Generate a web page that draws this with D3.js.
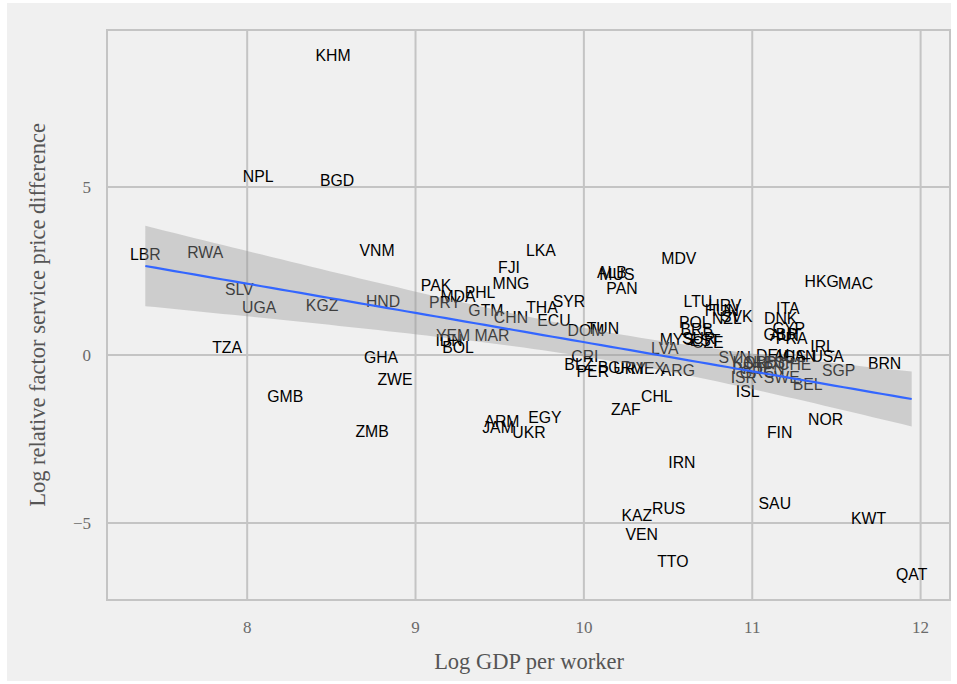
<!DOCTYPE html>
<html><head><meta charset="utf-8">
<script src="https://cdn.jsdelivr.net/npm/d3@7"></script>
<style>body{margin:0;background:#fff}svg{display:block}</style>
</head><body><svg id="c" width="957" height="684"></svg>
<script>
const codes = ["KHM","NPL","BGD","VNM","LBR","RWA","LKA","MDV","FJI","ALB","MUS","PAN","MNG","HKG","MAC","PAK","PHL","MDA","PRY","SLV","UGA","KGZ","HND","SYR","THA","GTM","CHN","ECU","LTU","HRV","HUN","SVK","NZL","ITA","DNK","CYP","GBR","AUT","FRA","IRL","USA","BRN","SGP","BEL","SWE","ISR","ISL","NOR","FIN","CHL","ZAF","IRN","SAU","KWT","QAT","KAZ","RUS","VEN","TTO","ARM","JAM","UKR","EGY","ZMB","GMB","ZWE","GHA","TZA","IDN","YEM","MAR","BOL","DOM","TUN","BLZ","CRI","PER","BGR","URY","MEX","ARG","LVA","MYS","POL","BRB","SUR","EST","CZE","SVN","KOR","PRT","DEU","AUS","NLD","JPN","CHE","ESP","CAN","GRC"];
const gdp = [8.510,8.065,8.534,8.772,7.395,7.751,9.745,10.564,9.555,10.166,10.196,10.226,9.567,11.412,11.614,9.122,9.383,9.252,9.175,7.953,8.071,8.445,8.807,9.911,9.751,9.418,9.567,9.822,10.677,10.837,10.819,10.908,10.849,11.211,11.169,11.217,11.169,11.20,11.234,11.418,11.448,11.786,11.513,11.329,11.175,10.950,10.973,11.436,11.163,10.433,10.249,10.582,11.134,11.691,11.947,10.315,10.504,10.344,10.528,9.513,9.490,9.674,9.769,8.742,8.226,8.878,8.795,7.881,9.199,9.223,9.454,9.252,10.012,10.113,9.970,10.006,10.053,10.184,10.273,10.380,10.558,10.481,10.552,10.659,10.67,10.682,10.72,10.736,10.896,10.985,10.973,11.122,11.223,11.056,11.104,11.252,11.163,11.282,11.03];
const price = [8.90,5.30,5.18,3.10,2.98,3.04,3.10,2.86,2.59,2.47,2.41,1.99,2.14,2.20,2.14,2.08,1.875,1.73,1.55,1.96,1.40,1.46,1.58,1.58,1.40,1.31,1.13,1.04,1.58,1.46,1.31,1.16,1.10,1.37,1.10,0.80,0.625,0.57,0.48,0.24,-0.03,-0.24,-0.45,-0.89,-0.68,-0.68,-1.10,-1.93,-2.32,-1.22,-1.61,-3.21,-4.43,-4.85,-6.52,-4.79,-4.58,-5.33,-6.13,-1.99,-2.17,-2.32,-1.85,-2.29,-1.22,-0.74,-0.06,0.21,0.42,0.595,0.595,0.21,0.74,0.80,-0.27,-0.03,-0.48,-0.36,-0.39,-0.39,-0.45,0.18,0.45,0.98,0.77,0.48,0.42,0.36,-0.06,-0.21,-0.39,0.0,-0.03,-0.21,-0.39,-0.27,-0.21,-0.03,-0.51];
const xTicks = [8,9,10,11,12];
const yTicks = [-5,0,5];
const xTitle = "Log GDP per worker";
const yTitle = "Log relative factor service price difference";

const svg = d3.select("#c");
const P = {l:107, r:950, t:30, b:600};
svg.append("rect").attr("x",7).attr("y",3).attr("width",944).attr("height",678).attr("fill","#f0f0f0");

const data = codes.map((c,i)=>({c, x:gdp[i], y:price[i]}));
const xe = d3.extent(gdp), ye = d3.extent(price);
const xp = (xe[1]-xe[0])*0.05, yp = (ye[1]-ye[0])*0.05;
const x = d3.scaleLinear().domain([xe[0]-xp, xe[1]+xp]).range([P.l, P.r]);
const y = d3.scaleLinear().domain([ye[0]-yp, ye[1]+yp]).range([P.b, P.t]);

const g = svg.append("g");
g.selectAll(".gx").data(xTicks).join("line")
  .attr("x1",d=>x(d)).attr("x2",d=>x(d)).attr("y1",P.t).attr("y2",P.b)
  .attr("stroke","#c4c4c4").attr("stroke-width",2);
g.selectAll(".gy").data(yTicks).join("line")
  .attr("y1",d=>y(d)).attr("y2",d=>y(d)).attr("x1",P.l).attr("x2",P.r)
  .attr("stroke","#c4c4c4").attr("stroke-width",2);
g.append("rect").attr("x",P.l).attr("y",P.t).attr("width",P.r-P.l).attr("height",P.b-P.t)
  .attr("fill","none").attr("stroke","#c4c4c4").attr("stroke-width",2);

// tick labels
const serif = "'Liberation Serif','DejaVu Serif',serif";
svg.selectAll(".xt").data(xTicks).join("text")
  .attr("x",d=>x(d)).attr("y",627).attr("dy","0.35em").attr("text-anchor","middle")
  .attr("font-family",serif).attr("font-size",17).attr("fill","#6a6a6a").text(d=>d);
svg.selectAll(".yt").data(yTicks).join("text")
  .attr("x",91).attr("y",d=>y(d)).attr("dy","0.35em").attr("text-anchor","end")
  .attr("font-family",serif).attr("font-size",17).attr("fill","#6a6a6a").text(d=>d<0?"\u2212"+Math.abs(d):d);
svg.append("text").attr("x",529).attr("y",661).attr("dy","0.35em").attr("text-anchor","middle")
  .attr("font-family",serif).attr("font-size",22.5).attr("fill","#555").text(xTitle);
svg.append("text").attr("transform",`translate(37,315) rotate(-90)`).attr("dy","0.35em")
  .attr("text-anchor","middle").attr("font-family",serif).attr("font-size",22.5).attr("fill","#555").text(yTitle);

// labels
svg.append("g").selectAll("text").data(data).join("text")
  .attr("x",d=>x(d.x)).attr("y",d=>y(d.y)).attr("dy","0.35em").attr("text-anchor","middle")
  .attr("font-family","'Liberation Sans',Arial,sans-serif").attr("font-size",15.8).attr("fill","#000")
  .text(d=>d.c);

// linear fit with 95% CI
const n = data.length, mx = d3.mean(gdp), my = d3.mean(price);
const sxx = d3.sum(gdp, v=>(v-mx)**2);
const sxy = d3.sum(data, d=>(d.x-mx)*(d.y-my));
const b1 = sxy/sxx, b0 = my - b1*mx;
const s = Math.sqrt(d3.sum(data, d=>(d.y-b0-b1*d.x)**2)/(n-2));
const tq = 1.985;
const fit = d3.range(80).map(i=>{
  const xv = xe[0] + (xe[1]-xe[0])*i/79;
  const yv = b0 + b1*xv;
  const se = s*Math.sqrt(1/n + (xv-mx)**2/sxx);
  return {x:xv, y:yv, lo:yv-tq*se, hi:yv+tq*se};
});
svg.append("path").datum(fit)
  .attr("d", d3.area().x(d=>x(d.x)).y0(d=>y(d.lo)).y1(d=>y(d.hi)))
  .attr("fill","#999999").attr("fill-opacity",0.4);
svg.append("path").datum(fit)
  .attr("d", d3.line().x(d=>x(d.x)).y(d=>y(d.y)))
  .attr("fill","none").attr("stroke","#3366FF").attr("stroke-width",2.2);
</script></body></html>
